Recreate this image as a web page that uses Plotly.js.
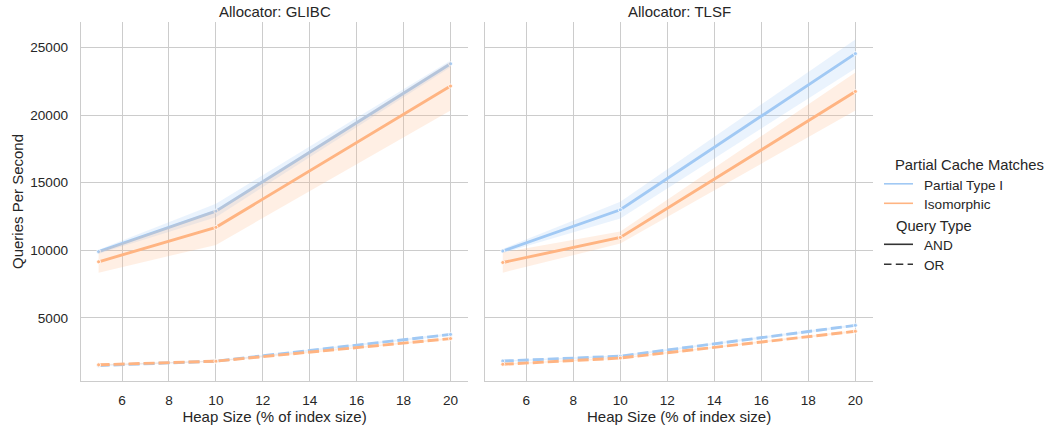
<!DOCTYPE html>
<html>
<head>
<meta charset="utf-8">
<script src="https://cdn.plot.ly/plotly-3.0.1.min.js"></script>
<style>
  html, body { margin: 0; padding: 0; background: #ffffff; }
  #chart { width: 1050px; height: 430px; }
</style>
</head>
<body>
<div id="chart"></div>
<script>
// Heap size as a percentage of the index size
const heapSizes = [5, 10, 20];

// Allocator: GLIBC — mean queries per second with 95% confidence band
const glibcPartialAnd   = [9900, 12900, 23800];
const glibcPartialAndLo = [9750, 12450, 23550];
const glibcPartialAndHi = [10050, 13450, 24050];
const glibcIsoAnd       = [9150, 11700, 22150];
const glibcIsoAndLo     = [8350, 10400, 20350];
const glibcIsoAndHi     = [9950, 13000, 23950];
const glibcPartialOr    = [1480, 1800, 3780];
const glibcPartialOrLo  = [1430, 1750, 3700];
const glibcPartialOrHi  = [1530, 1850, 3860];
const glibcIsoOr        = [1530, 1800, 3470];
const glibcIsoOrLo      = [1480, 1750, 3400];
const glibcIsoOrHi      = [1580, 1850, 3540];

// Allocator: TLSF
const tlsfPartialAnd   = [9950, 13000, 24550];
const tlsfPartialAndLo = [9800, 12350, 23450];
const tlsfPartialAndHi = [10100, 13600, 25600];
const tlsfIsoAnd       = [9100, 10950, 21750];
const tlsfIsoAndLo     = [8350, 10500, 20350];
const tlsfIsoAndHi     = [9850, 11400, 23150];
const tlsfPartialOr    = [1810, 2170, 4450];
const tlsfPartialOrLo  = [1760, 2110, 4370];
const tlsfPartialOrHi  = [1860, 2230, 4530];
const tlsfIsoOr        = [1570, 2030, 4010];
const tlsfIsoOrLo      = [1520, 1980, 3940];
const tlsfIsoOrHi      = [1620, 2080, 4080];

const allocators = ['GLIBC', 'TLSF'];
const matchTypes = ['Partial Type I', 'Isomorphic'];
const queryTypes = ['AND', 'OR'];
const xTicks = [6, 8, 10, 12, 14, 16, 18, 20];
const yTicks = [5000, 10000, 15000, 20000, 25000];

const seriesByPanel = {
  GLIBC: {
    'Partial Type I': {
      AND: [glibcPartialAnd, glibcPartialAndLo, glibcPartialAndHi],
      OR:  [glibcPartialOr, glibcPartialOrLo, glibcPartialOrHi]
    },
    'Isomorphic': {
      AND: [glibcIsoAnd, glibcIsoAndLo, glibcIsoAndHi],
      OR:  [glibcIsoOr, glibcIsoOrLo, glibcIsoOrHi]
    }
  },
  TLSF: {
    'Partial Type I': {
      AND: [tlsfPartialAnd, tlsfPartialAndLo, tlsfPartialAndHi],
      OR:  [tlsfPartialOr, tlsfPartialOrLo, tlsfPartialOrHi]
    },
    'Isomorphic': {
      AND: [tlsfIsoAnd, tlsfIsoAndLo, tlsfIsoAndHi],
      OR:  [tlsfIsoOr, tlsfIsoOrLo, tlsfIsoOrHi]
    }
  }
};

// seaborn "pastel" palette
const lineColor = { 'Partial Type I': '#a1c9f4', 'Isomorphic': '#ffb482' };
const bandColor = { 'Partial Type I': 'rgba(161,201,244,0.22)', 'Isomorphic': 'rgba(255,180,130,0.22)' };
const dashStyle = { AND: 'solid', OR: '11px,4px' };

const FONT = 'Arial, "Liberation Sans", Helvetica, sans-serif';
const TEXT = '#262626';
const GRID = '#cccccc';

// plot area in pixels
const M = { l: 80.7, r: 177, t: 21.7, b: 49.3 };
const W = 1050, H = 430;
const PW = W - M.l - M.r, PH = H - M.t - M.b;
const pxX = px => (px - M.l) / PW;
const pxY = py => (H - M.b - py) / PH;

const traces = [];
allocators.forEach((alloc, p) => {
  const xa = p === 0 ? 'x' : 'x2';
  const ya = p === 0 ? 'y' : 'y2';
  matchTypes.forEach(m => {
    queryTypes.forEach(q => {
      const [mean, lo, hi] = seriesByPanel[alloc][m][q];
      // confidence band: upper edge forward, lower edge back
      traces.push({
        type: 'scatter', mode: 'lines', xaxis: xa, yaxis: ya,
        x: heapSizes.concat(heapSizes.slice().reverse()),
        y: hi.concat(lo.slice().reverse()),
        fill: 'toself', fillcolor: bandColor[m],
        line: { width: 0, color: 'rgba(0,0,0,0)' },
        hoverinfo: 'skip', showlegend: false
      });
      traces.push({
        type: 'scatter', mode: 'lines+markers', xaxis: xa, yaxis: ya,
        x: heapSizes, y: mean,
        line: { color: lineColor[m], width: 2.9, dash: dashStyle[q] },
        marker: { size: 4, color: lineColor[m], line: { color: '#ffffff', width: 0.8 } },
        name: m + ' / ' + q, showlegend: false
      });
    });
  });
});

// legend drawn beside the panels
const legendShapes = [];
const legendNotes = [];
function legendHeading(text, left, cy, size) {
  legendNotes.push({
    text: text, xref: 'paper', yref: 'paper',
    x: pxX(left - 1), y: pxY(cy), xanchor: 'left', yanchor: 'middle',
    showarrow: false, borderpad: 0, font: { size: size, color: TEXT, family: FONT }
  });
}
function legendEntry(label, color, dash, cy) {
  legendShapes.push({
    type: 'line', xref: 'paper', yref: 'paper',
    x0: pxX(884), x1: pxX(913), y0: pxY(cy - 1.5), y1: pxY(cy - 1.5),
    line: { color: color, width: 1.6, dash: dash }
  });
  legendNotes.push({
    text: label, xref: 'paper', yref: 'paper',
    x: pxX(924 - 1), y: pxY(cy), xanchor: 'left', yanchor: 'middle',
    showarrow: false, borderpad: 0, font: { size: 13.6, color: TEXT, family: FONT }
  });
}
legendHeading('Partial Cache Matches', 895, 165, 14.8);
legendEntry(matchTypes[0], lineColor[matchTypes[0]], 'solid', 185);
legendEntry(matchTypes[1], lineColor[matchTypes[1]], 'solid', 204.5);
legendHeading('Query Type', 896, 226, 14.7);
legendEntry(queryTypes[0], '#333333', 'solid', 245.5);
legendEntry(queryTypes[1], '#333333', '7.5px,4.3px', 265.5);

const xAxisBase = {
  range: [4.25, 20.75],
  tickvals: xTicks,
  ticktext: xTicks.map(String),
  showgrid: true, gridcolor: GRID, gridwidth: 1,
  zeroline: false,
  showline: true, linecolor: GRID, linewidth: 1.25,
  ticks: 'outside', ticklen: 6, tickcolor: 'rgba(0,0,0,0)',
  tickfont: { size: 13.6, color: TEXT, family: FONT },
  title: { text: 'Heap Size (% of index size)', font: { size: 15, color: TEXT, family: FONT }, standoff: 4 }
};
const yAxisBase = {
  range: [333, 26890],
  tickvals: yTicks,
  ticktext: yTicks.map(String),
  showgrid: true, gridcolor: GRID, gridwidth: 1,
  zeroline: false,
  showline: true, linecolor: GRID, linewidth: 1.25,
  ticks: 'outside', ticklen: 9, tickcolor: 'rgba(0,0,0,0)',
  tickfont: { size: 13.6, color: TEXT, family: FONT }
};

const layout = {
  width: W, height: H,
  margin: M,
  paper_bgcolor: '#ffffff', plot_bgcolor: '#ffffff',
  font: { family: FONT, color: TEXT },
  showlegend: false,
  xaxis: Object.assign({}, xAxisBase, { domain: [0, 0.4888], anchor: 'y' }),
  xaxis2: Object.assign({}, xAxisBase, { domain: [0.5103, 1], anchor: 'y2' }),
  yaxis: Object.assign({}, yAxisBase, {
    anchor: 'x',
    title: { text: 'Queries Per Second', font: { size: 15, color: TEXT, family: FONT }, standoff: 3 }
  }),
  yaxis2: Object.assign({}, yAxisBase, { anchor: 'x2', matches: 'y', showticklabels: false }),
  shapes: legendShapes,
  annotations: allocators.map((alloc, p) => ({
    text: 'Allocator: ' + alloc,
    xref: p === 0 ? 'x domain' : 'x2 domain', yref: 'paper',
    x: 0.5, y: 1, xanchor: 'center', yanchor: 'bottom', yshift: 0,
    showarrow: false, font: { size: 15, color: TEXT, family: FONT }
  })).concat(legendNotes)
};

Plotly.newPlot('chart', traces, layout, { displayModeBar: false, staticPlot: true });
</script>
</body>
</html>
